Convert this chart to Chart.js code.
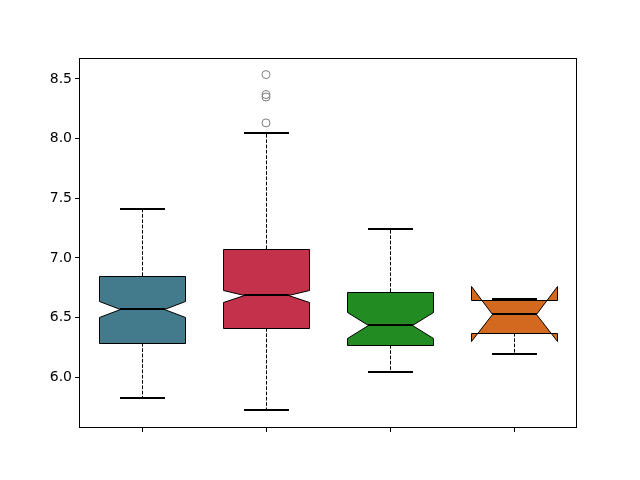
<!DOCTYPE html>
<html>
<head>
<meta charset="utf-8">
<script src="https://cdn.jsdelivr.net/npm/chart.js@4.4.0/dist/chart.umd.min.js"></script>
<style>
html,body{margin:0;padding:0;background:#fff;}
#wrap{width:640px;height:480px;}
</style>
</head>
<body>
<div id="wrap"><canvas id="c" width="640" height="480"></canvas></div>
<script>
// Data
const positions   = [1, 2, 3, 4];
const whiskerLow  = [5.824, 5.723, 6.048, 6.193];
const q1          = [6.285, 6.417, 6.274, 6.371];
const median      = [6.572, 6.687, 6.436, 6.528];
const q3          = [6.847, 7.079, 6.718, 6.651];
const whiskerHigh = [7.408, 8.045, 7.246, 6.656];
const notchLow    = [6.508, 6.631, 6.329, 6.304];
const notchHigh   = [6.643, 6.735, 6.547, 6.763];
const outliers    = [[], [8.537, 8.370, 8.349, 8.132], [], []];
const boxColors   = ['#447b8c', '#c3314a', '#228b22', '#d2691e'];
const yTicks      = [6.0, 6.5, 7.0, 7.5, 8.0, 8.5];

const boxWidth = 0.7;

const flierData = [];
outliers.forEach((arr, i) => arr.forEach(v => flierData.push({x: positions[i], y: v})));

const boxPlugin = {
  id: 'boxes',
  afterDatasetsDraw(chart) {
    const ctx = chart.ctx, xs = chart.scales.x, ys = chart.scales.y;
    const Y = v => Math.round(ys.getPixelForValue(v));
    const X = v => Math.round(xs.getPixelForValue(v));
    ctx.save();
    positions.forEach((p, i) => {
      const L = X(p - boxWidth / 2) + 0.5;
      const R = X(p + boxWidth / 2) + 0.5;
      const mL = X(p - boxWidth / 4);
      const mR = X(p + boxWidth / 4);
      const cx = X(p) + 0.5;
      const yb = v => Y(v) + 0.5;
      // box polygon (notched)
      ctx.beginPath();
      ctx.moveTo(L, yb(q1[i]));
      ctx.lineTo(L, yb(notchLow[i]));
      ctx.lineTo(mL + 0.5, yb(median[i]));
      ctx.lineTo(L, yb(notchHigh[i]));
      ctx.lineTo(L, yb(q3[i]));
      ctx.lineTo(R, yb(q3[i]));
      ctx.lineTo(R, yb(notchHigh[i]));
      ctx.lineTo(mR + 0.5, yb(median[i]));
      ctx.lineTo(R, yb(notchLow[i]));
      ctx.lineTo(R, yb(q1[i]));
      ctx.closePath();
      ctx.fillStyle = boxColors[i];
      ctx.fill();
      ctx.lineWidth = 1;
      ctx.strokeStyle = '#000';
      ctx.lineJoin = 'miter';
      ctx.stroke();
      // whiskers
      ctx.setLineDash([3.7, 1.6]);
      ctx.beginPath();
      ctx.moveTo(cx, Y(q1[i])); ctx.lineTo(cx, Y(whiskerLow[i]));
      ctx.moveTo(cx, Y(q3[i])); ctx.lineTo(cx, Y(whiskerHigh[i]));
      ctx.stroke();
      ctx.setLineDash([]);
      // caps and median (2px)
      ctx.lineWidth = 2;
      ctx.beginPath();
      ctx.moveTo(mL, Y(whiskerLow[i])); ctx.lineTo(mR + 1, Y(whiskerLow[i]));
      ctx.moveTo(mL, Y(whiskerHigh[i])); ctx.lineTo(mR + 1, Y(whiskerHigh[i]));
      ctx.moveTo(mL, Y(median[i])); ctx.lineTo(mR + 1, Y(median[i]));
      ctx.stroke();
    });
    // frame
    const a = chart.chartArea;
    ctx.lineWidth = 1;
    ctx.strokeStyle = '#000';
    ctx.strokeRect(Math.round(a.left) - 0.5, Math.round(a.top) + 0.5,
                   Math.round(a.right - a.left) + 1, Math.round(a.bottom - a.top));
    ctx.restore();
  }
};

new Chart(document.getElementById('c'), {
  type: 'scatter',
  data: {
    datasets: [{
      data: flierData,
      pointRadius: 4,
      pointHoverRadius: 4,
      pointBorderWidth: 1,
      pointBorderColor: '#7f7f7f',
      pointBackgroundColor: 'rgba(0,0,0,0)'
    }]
  },
  options: {
    responsive: false,
    animation: false,
    events: [],
    layout: { padding: { top: 58, right: 64, left: 0, bottom: 0 } },
    plugins: { legend: { display: false }, tooltip: { enabled: false } },
    scales: {
      x: {
        type: 'linear', min: 0.5, max: 4.5,
        afterBuildTicks: s => { s.ticks = positions.map(v => ({value: v})); },
        afterFit: s => { s.height = 53; },
        ticks: { callback: () => '', padding: 0 },
        grid: { display: true, drawOnChartArea: false, drawTicks: true, tickLength: 5, color: '#000' },
        border: { display: false }
      },
      y: {
        type: 'linear', min: 5.583, max: 8.676,
        afterBuildTicks: s => { s.ticks = yTicks.map(v => ({value: v})); },
        afterFit: s => { s.width = 80; },
        ticks: {
          callback: v => Number(v).toFixed(1),
          color: '#000', padding: 3,
          font: { family: 'DejaVu Sans', size: 14 }
        },
        grid: { display: true, drawOnChartArea: false, drawTicks: true, tickLength: 5, color: '#000' },
        border: { display: false }
      }
    }
  },
  plugins: [boxPlugin]
});
</script>
</body>
</html>
